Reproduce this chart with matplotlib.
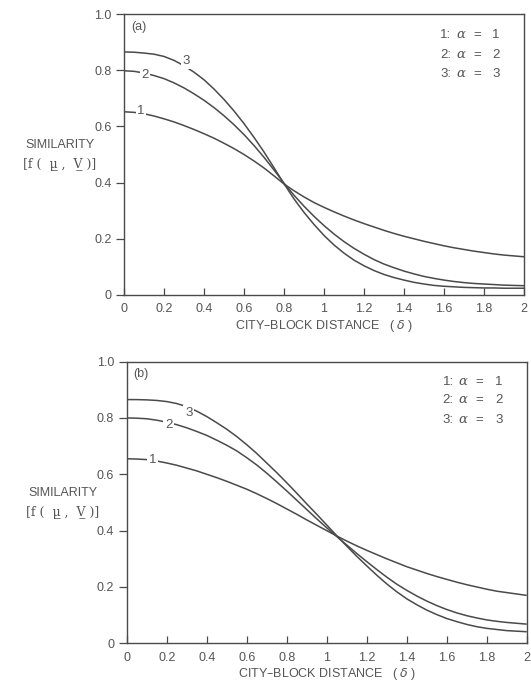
import matplotlib
matplotlib.use("Agg")
import matplotlib.pyplot as plt
import numpy as np

plt.rcParams['font.family'] = ['Liberation Sans', 'DejaVu Sans']

# city-block distance at which the curves were read (every 0.05)
dist = np.linspace(0, 2, 41)

# panel (a)
a_alpha1 = [0.652, 0.650, 0.645, 0.637, 0.627, 0.616, 0.603, 0.589, 0.574, 0.558,
            0.540, 0.521, 0.500, 0.477, 0.452, 0.424, 0.395, 0.371, 0.349, 0.329,
            0.312, 0.296, 0.281, 0.267, 0.254, 0.242, 0.230, 0.219, 0.209, 0.200,
            0.191, 0.183, 0.175, 0.168, 0.162, 0.156, 0.151, 0.146, 0.142, 0.139, 0.136]
a_alpha2 = [0.798, 0.796, 0.790, 0.781, 0.770, 0.755, 0.737, 0.716, 0.693, 0.667,
            0.638, 0.606, 0.571, 0.532, 0.490, 0.445, 0.398, 0.355, 0.316, 0.280,
            0.247, 0.217, 0.190, 0.166, 0.145, 0.126, 0.110, 0.097, 0.085, 0.075,
            0.066, 0.059, 0.053, 0.048, 0.044, 0.041, 0.039, 0.037, 0.035, 0.034, 0.033]
a_alpha3 = [0.865, 0.864, 0.861, 0.857, 0.849, 0.835, 0.816, 0.793, 0.766, 0.733,
            0.696, 0.655, 0.610, 0.561, 0.509, 0.453, 0.396, 0.342, 0.294, 0.251,
            0.212, 0.178, 0.149, 0.124, 0.104, 0.087, 0.073, 0.062, 0.053, 0.045,
            0.039, 0.034, 0.031, 0.029, 0.027, 0.026, 0.025, 0.025, 0.024, 0.024, 0.024]

# panel (b)
b_alpha1 = [0.655, 0.654, 0.652, 0.647, 0.640, 0.632, 0.622, 0.612, 0.600, 0.588,
            0.575, 0.561, 0.547, 0.531, 0.514, 0.496, 0.477, 0.458, 0.438, 0.419,
            0.400, 0.381, 0.363, 0.346, 0.330, 0.315, 0.300, 0.286, 0.272, 0.260,
            0.248, 0.237, 0.227, 0.217, 0.208, 0.200, 0.192, 0.185, 0.180, 0.175, 0.170]
b_alpha2 = [0.800, 0.799, 0.797, 0.792, 0.785, 0.776, 0.765, 0.752, 0.738, 0.721,
            0.703, 0.683, 0.659, 0.633, 0.604, 0.573, 0.541, 0.508, 0.475, 0.442,
            0.410, 0.379, 0.349, 0.319, 0.290, 0.262, 0.235, 0.210, 0.188, 0.168,
            0.150, 0.134, 0.120, 0.108, 0.098, 0.090, 0.083, 0.078, 0.074, 0.071, 0.068]
b_alpha3 = [0.865, 0.865, 0.864, 0.862, 0.858, 0.851, 0.840, 0.824, 0.805, 0.783,
            0.760, 0.734, 0.705, 0.674, 0.640, 0.606, 0.570, 0.533, 0.495, 0.458,
            0.420, 0.382, 0.345, 0.309, 0.275, 0.242, 0.211, 0.183, 0.158, 0.137,
            0.118, 0.102, 0.088, 0.077, 0.067, 0.059, 0.053, 0.049, 0.045, 0.043, 0.041]

x_ticks = [0, 0.2, 0.4, 0.6, 0.8, 1, 1.2, 1.4, 1.6, 1.8, 2]
x_ticklabels = ["0", "0.2", "0.4", "0.6", "0.8", "1", "1.2", "1.4", "1.6", "1.8", "2"]
y_ticks = [0, 0.2, 0.4, 0.6, 0.8, 1.0]
y_ticklabels = ["0", "0.2", "0.4", "0.6", "0.8", "1.0"]
alphas = ["1", "2", "3"]

line_col = "#4a4a4a"
text_col = "#555555"

fig = plt.figure(figsize=(5.31, 6.90), dpi=100)
ax_a = fig.add_axes([0.2335, 0.5725, 0.7533, 0.4072])
ax_b = fig.add_axes([0.2386, 0.0677, 0.7533, 0.4083])

panels = [
    (ax_a, "(a)", [a_alpha1, a_alpha2, a_alpha3],
     [(0.085, 0.655), (0.105, 0.782), (0.31, 0.832)], [0.925, 0.855, 0.787]),
    (ax_b, "(b)", [b_alpha1, b_alpha2, b_alpha3],
     [(0.13, 0.652), (0.21, 0.775), (0.31, 0.817)], [0.928, 0.862, 0.793]),
]

for ax, tag, curves, label_pos, leg_y in panels:
    for ys in curves:
        ax.plot(dist, ys, color=line_col, lw=1.1, solid_capstyle="butt")
    for i, (lx, ly) in enumerate(label_pos):
        ax.text(lx, ly, str(i + 1), fontsize=9.5, color=text_col, ha="center", va="center",
                bbox=dict(facecolor="white", edgecolor="none", pad=1.2))
    # little key: "1:  a = 1"
    for a, ly in zip(alphas, leg_y):
        ax.text(1.58, ly, a + ":", fontsize=9.5, color=text_col, ha="left", va="center")
        ax.text(1.685, ly, "$\\alpha$", fontsize=9.5, color=text_col, ha="center", va="center",
                math_fontfamily="dejavuserif")
        ax.text(1.765, ly, "=", fontsize=9.5, color=text_col, ha="center", va="center")
        ax.text(1.86, ly, a, fontsize=9.5, color=text_col, ha="center", va="center")
    ax.text(0.035, 0.955, tag, fontsize=9, color=text_col, ha="left", va="center")

    ax.set_xlim(0, 2)
    ax.set_ylim(0, 1.0)
    ax.set_xticks(x_ticks)
    ax.set_xticklabels(x_ticklabels)
    ax.set_yticks(y_ticks)
    ax.set_yticklabels(y_ticklabels)
    ax.tick_params(axis="x", direction="in", length=5, width=0.9, colors=line_col,
                   labelcolor=text_col, labelsize=9, pad=6)
    ax.tick_params(axis="y", direction="out", length=6, width=0.9, colors=line_col,
                   labelcolor=text_col, labelsize=9, pad=3)
    for sp in ax.spines.values():
        sp.set_color(line_col)
        sp.set_linewidth(1.0)

    ax.set_xlabel("CITY\u2013BLOCK DISTANCE   ( $\\delta$ )", fontsize=9, color=text_col,
                  labelpad=2)
    ax.text(-0.16, 0.535, "SIMILARITY", transform=ax.transAxes, fontsize=9,
            color=text_col, ha="center", va="center")
    ax.text(-0.16, 0.465, "[f (  \u03bc\u0332 ,  V\u0332 )]",
            transform=ax.transAxes, fontsize=9, color=text_col, ha="center", va="center",
            family="DejaVu Serif")

fig.savefig("out.png", dpi=100)
